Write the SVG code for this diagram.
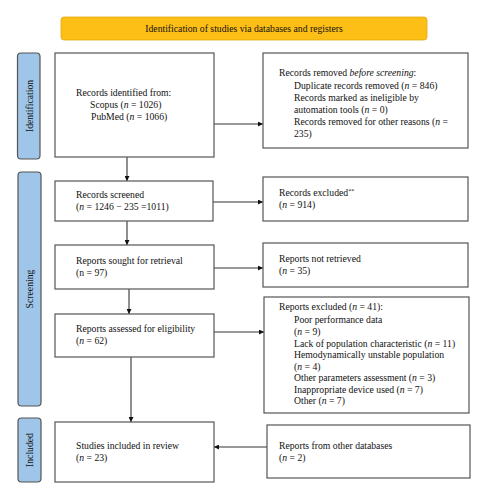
<svg xmlns="http://www.w3.org/2000/svg" width="488" height="500" viewBox="0 0 488 500">
<style>
text{font-family:"Liberation Serif","Times New Roman",serif;font-size:9.7px;fill:#111}
.box{fill:#fff;stroke:#555;stroke-width:1.2}
.side{fill:#9fc5e8;stroke:#555;stroke-width:1.2}
.ln{stroke:#333;stroke-width:1.1;fill:none}
.v{text-anchor:middle}
</style>
<defs>
<marker id="ah" viewBox="0 0 10 10" refX="10" refY="5" markerWidth="5" markerHeight="5" orient="auto" markerUnits="userSpaceOnUse">
<path d="M0,0 L10,5 L0,10 z" fill="#111"/>
</marker>
</defs>
<rect width="488" height="500" fill="#fff"/>
<g id="title">
<rect x="61" y="17" width="366" height="23" rx="3" fill="#fdbf16" stroke="#e0a810" stroke-width="0.8"/>
<text x="244" y="31.5" class="v">Identification of studies via databases and registers</text>
</g>
<g id="side-identification">
<rect class="side" x="17.5" y="53" width="22.5" height="106" rx="3.5"/>
<text transform="translate(32.5,106) rotate(-90)" class="v">Identification</text>
</g>
<g id="side-screening">
<rect class="side" x="18" y="172" width="23" height="234" rx="3.5"/>
<text transform="translate(33,289) rotate(-90)" class="v">Screening</text>
</g>
<g id="side-included">
<rect class="side" x="18" y="418" width="23" height="64" rx="3.5"/>
<text transform="translate(33,450) rotate(-90)" class="v">Included</text>
</g>
<g id="connectors">
<line class="ln" x1="214" y1="124" x2="263" y2="124" marker-end="url(#ah)"/>
<line class="ln" x1="127" y1="157" x2="127" y2="181" marker-end="url(#ah)"/>
<line class="ln" x1="213" y1="202" x2="263" y2="202" marker-end="url(#ah)"/>
<line class="ln" x1="127" y1="221" x2="127" y2="245" marker-end="url(#ah)"/>
<line class="ln" x1="214" y1="268" x2="263" y2="268" marker-end="url(#ah)"/>
<line class="ln" x1="129" y1="289" x2="129" y2="314" marker-end="url(#ah)"/>
<line class="ln" x1="214" y1="332" x2="264" y2="332" marker-end="url(#ah)"/>
<line class="ln" x1="131" y1="357" x2="131" y2="422" marker-end="url(#ah)"/>
<line class="ln" x1="267" y1="447" x2="214" y2="447" marker-end="url(#ah)"/>
</g>
<g id="records-identified">
<rect class="box" x="55" y="53" width="159" height="104"/>
<text x="76" y="96">Records identified from:</text>
<text x="90" y="108">Scopus (<tspan font-style="italic">n</tspan> = 1026)</text>
<text x="91" y="120">PubMed (<tspan font-style="italic">n</tspan> = 1066)</text>
</g>
<g id="records-removed">
<rect class="box" x="263" y="53" width="205" height="95"/>
<text x="279" y="76">Records removed <tspan font-style="italic">before screening</tspan>:</text>
<text x="294" y="88.5">Duplicate records removed (<tspan font-style="italic">n</tspan> = 846)</text>
<text x="294" y="100.5">Records marked as ineligible by</text>
<text x="294" y="113">automation tools (<tspan font-style="italic">n</tspan> = 0)</text>
<text x="294" y="125">Records removed for other reasons (<tspan font-style="italic">n</tspan> =</text>
<text x="294" y="137">235)</text>
</g>
<g id="records-screened">
<rect class="box" x="55" y="181" width="158" height="40"/>
<text x="76" y="197.5">Records screened</text>
<text x="76" y="209.5">(<tspan font-style="italic">n</tspan> = 1246 − 235 =1011)</text>
</g>
<g id="records-excluded">
<rect class="box" x="263" y="177" width="205" height="44"/>
<text x="279" y="195.5">Records excluded<tspan font-size="6px" dy="-3">**</tspan></text>
<text x="279" y="207.5">(<tspan font-style="italic">n</tspan> = 914)</text>
</g>
<g id="reports-sought">
<rect class="box" x="55" y="245" width="159" height="44"/>
<text x="76" y="263.5">Reports sought for retrieval</text>
<text x="76" y="275.5">(n = 97)</text>
</g>
<g id="reports-not-retrieved">
<rect class="box" x="263" y="243" width="205" height="44"/>
<text x="279" y="261.5">Reports not retrieved</text>
<text x="279" y="273.5">(<tspan font-style="italic">n</tspan> = 35)</text>
</g>
<g id="reports-assessed">
<rect class="box" x="55" y="314" width="159" height="43"/>
<text x="76" y="331.5">Reports assessed for eligibility</text>
<text x="76" y="343.5">(<tspan font-style="italic">n</tspan> = 62)</text>
</g>
<g id="reports-excluded">
<rect class="box" x="264" y="297" width="205" height="116"/>
<text x="279" y="310">Reports excluded (<tspan font-style="italic">n</tspan> = 41):</text>
<text x="294" y="323">Poor performance data</text>
<text x="294" y="335">(<tspan font-style="italic">n</tspan> = 9)</text>
<text x="294" y="346.5">Lack of population characteristic (<tspan font-style="italic">n</tspan> = 11)</text>
<text x="294" y="357.5">Hemodynamically unstable population</text>
<text x="294" y="369.5">(<tspan font-style="italic">n</tspan> = 4)</text>
<text x="294" y="381">Other parameters assessment (<tspan font-style="italic">n</tspan> = 3)</text>
<text x="294" y="392.5">Inappropriate device used (<tspan font-style="italic">n</tspan> = 7)</text>
<text x="294" y="404">Other (<tspan font-style="italic">n</tspan> = 7)</text>
</g>
<g id="studies-included">
<rect class="box" x="55" y="422" width="159" height="60"/>
<text x="76" y="448.5">Studies included in review</text>
<text x="76" y="460.5">(<tspan font-style="italic">n</tspan> = 23)</text>
</g>
<g id="other-databases">
<rect class="box" x="267" y="425" width="203" height="53"/>
<text x="279" y="448.5">Reports from other databases</text>
<text x="279" y="460.5">(<tspan font-style="italic">n</tspan> = 2)</text>
</g>
</svg>
